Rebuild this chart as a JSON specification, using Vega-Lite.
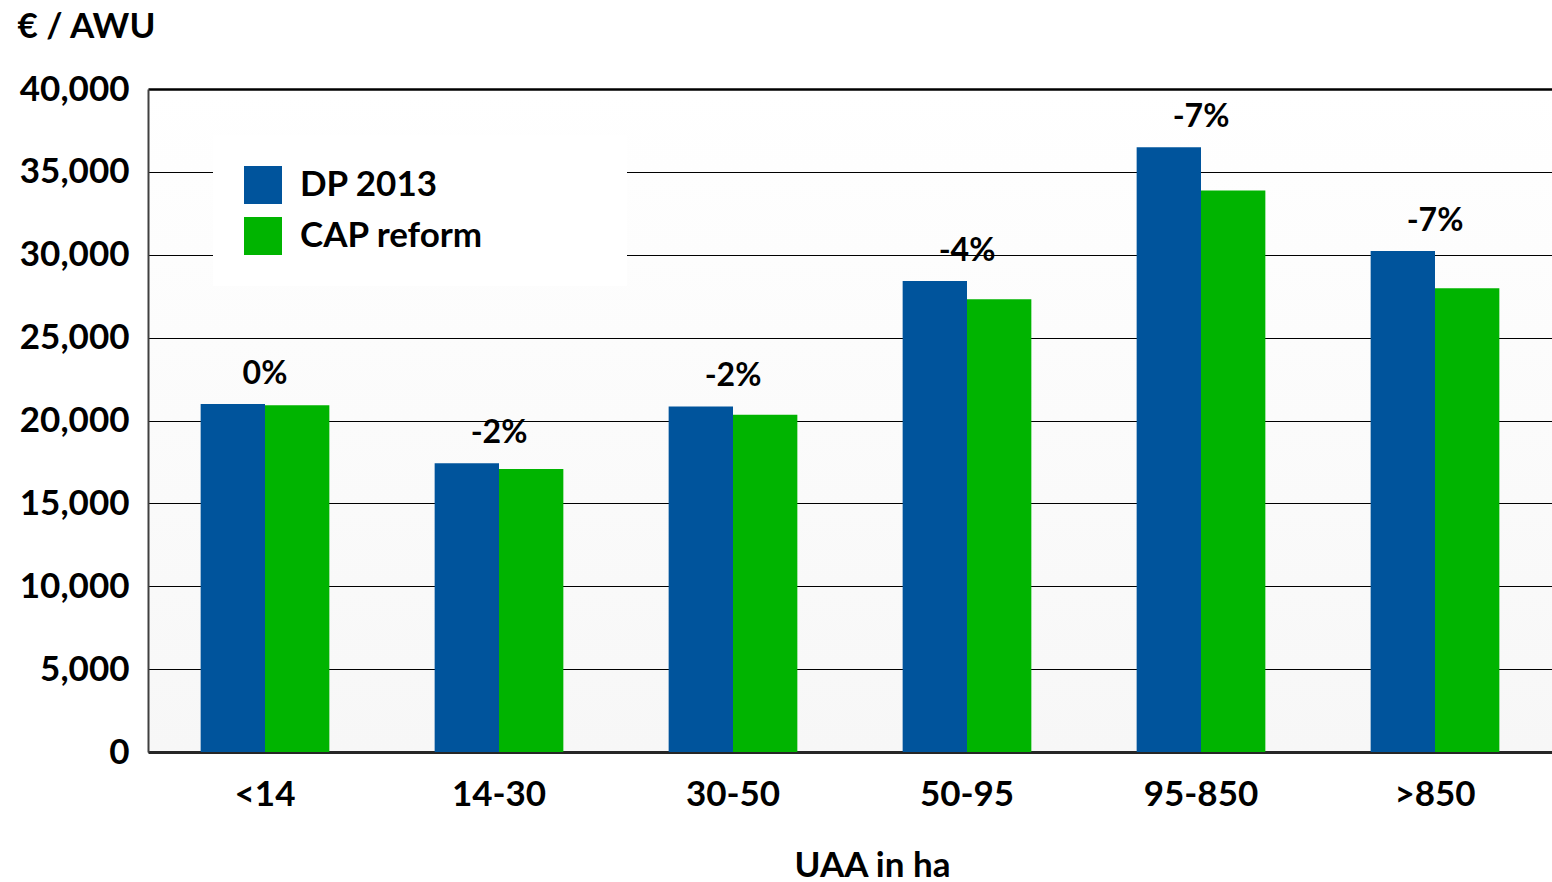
{
  "$schema": "https://vega.github.io/schema/vega-lite/v6.json",
  "width": 1404,
  "height": 663,
  "autosize": {"type": "none"},
  "padding": {"left": 148, "top": 89, "right": 0, "bottom": 130},
  "background": "#ffffff",
  "config": {
    "font": "Lato",
    "view": {
      "stroke": null,
      "fill": {
        "gradient": "linear",
        "x1": 0, "y1": 0, "x2": 0, "y2": 1,
        "stops": [
          {"offset": 0, "color": "#ffffff"},
          {"offset": 1, "color": "#f7f7f7"}
        ]
      }
    },
    "axis": {
      "labelFont": "Lato",
      "labelFontWeight": "bold",
      "labelFontSize": 35,
      "labelColor": "#000000",
      "titleFont": "Lato",
      "titleFontWeight": "bold",
      "titleFontSize": 35,
      "titleColor": "#000000",
      "ticks": false
    }
  },
  "datasets": {
    "income": [
      {"size": "<14", "scenario": "DP 2013", "value": 21000},
      {"size": "<14", "scenario": "CAP reform", "value": 20920},
      {"size": "14-30", "scenario": "DP 2013", "value": 17420},
      {"size": "14-30", "scenario": "CAP reform", "value": 17080},
      {"size": "30-50", "scenario": "DP 2013", "value": 20850},
      {"size": "30-50", "scenario": "CAP reform", "value": 20350},
      {"size": "50-95", "scenario": "DP 2013", "value": 28420},
      {"size": "50-95", "scenario": "CAP reform", "value": 27310},
      {"size": "95-850", "scenario": "DP 2013", "value": 36490},
      {"size": "95-850", "scenario": "CAP reform", "value": 33870},
      {"size": ">850", "scenario": "DP 2013", "value": 30230},
      {"size": ">850", "scenario": "CAP reform", "value": 27980}
    ],
    "change": [
      {"size": "<14", "top": 21000, "label": "0%"},
      {"size": "14-30", "top": 17420, "label": "-2%"},
      {"size": "30-50", "top": 20850, "label": "-2%"},
      {"size": "50-95", "top": 28420, "label": "-4%"},
      {"size": "95-850", "top": 36490, "label": "-7%"},
      {"size": ">850", "top": 30230, "label": "-7%"}
    ]
  },
  "layer": [
    {
      "data": {"name": "income"},
      "mark": {"type": "bar"},
      "encoding": {
        "x": {
          "field": "size",
          "type": "nominal",
          "sort": ["<14", "14-30", "30-50", "50-95", "95-850", ">850"],
          "scale": {"paddingInner": 0.45, "paddingOuter": 0.225},
          "axis": {
            "title": "UAA in ha",
            "titleX": 724,
            "titleY": 124,
            "titleAlign": "center",
            "titleBaseline": "alphabetic",
            "labelAngle": 0,
            "labelPadding": 25,
            "domainColor": "#262626",
            "domainWidth": 3,
            "grid": false
          }
        },
        "xOffset": {
          "field": "scenario",
          "type": "nominal",
          "sort": ["DP 2013", "CAP reform"],
          "scale": {"paddingInner": 0, "paddingOuter": 0}
        },
        "y": {
          "field": "value",
          "type": "quantitative",
          "scale": {"domain": [0, 40000], "nice": false},
          "axis": {
            "title": "€ / AWU",
            "titleAngle": 0,
            "titleX": -131,
            "titleY": -52,
            "titleAlign": "left",
            "titleBaseline": "alphabetic",
            "values": [0, 5000, 10000, 15000, 20000, 25000, 30000, 35000, 40000],
            "format": ",d",
            "labelPadding": 19,
            "domainColor": "#404040",
            "domainWidth": 2,
            "grid": true,
            "gridColor": "#000000",
            "gridOpacity": 1,
            "gridWidth": {"condition": {"test": "datum.value === 40000", "value": 2.5}, "value": 1}
          }
        },
        "color": {
          "field": "scenario",
          "type": "nominal",
          "sort": ["DP 2013", "CAP reform"],
          "scale": {"domain": ["DP 2013", "CAP reform"], "range": ["#00549c", "#00b400"]},
          "legend": {
            "title": null,
            "orient": "none",
            "legendX": 65,
            "legendY": 46,
            "fillColor": "#ffffff",
            "padding": 31,
            "symbolType": "square",
            "symbolSize": 1444,
            "symbolStrokeWidth": 0,
            "symbolOpacity": 1,
            "labelFont": "Lato",
            "labelFontWeight": "bold",
            "labelFontSize": 35,
            "labelColor": "#000000",
            "labelOffset": 18,
            "rowPadding": 13,
            "labelLimit": 600,
            "labelExpr": "datum.label + '\u2800\u2800 \u2800\u2800'"
          }
        }
      }
    },
    {
      "data": {"name": "change"},
      "mark": {
        "type": "text",
        "font": "Lato",
        "fontWeight": "bold",
        "fontSize": 32,
        "color": "#000000",
        "baseline": "alphabetic",
        "dy": -20
      },
      "encoding": {
        "x": {"field": "size", "type": "nominal", "sort": ["<14", "14-30", "30-50", "50-95", "95-850", ">850"]},
        "y": {"field": "top", "type": "quantitative"},
        "text": {"field": "label"}
      }
    }
  ]
}
